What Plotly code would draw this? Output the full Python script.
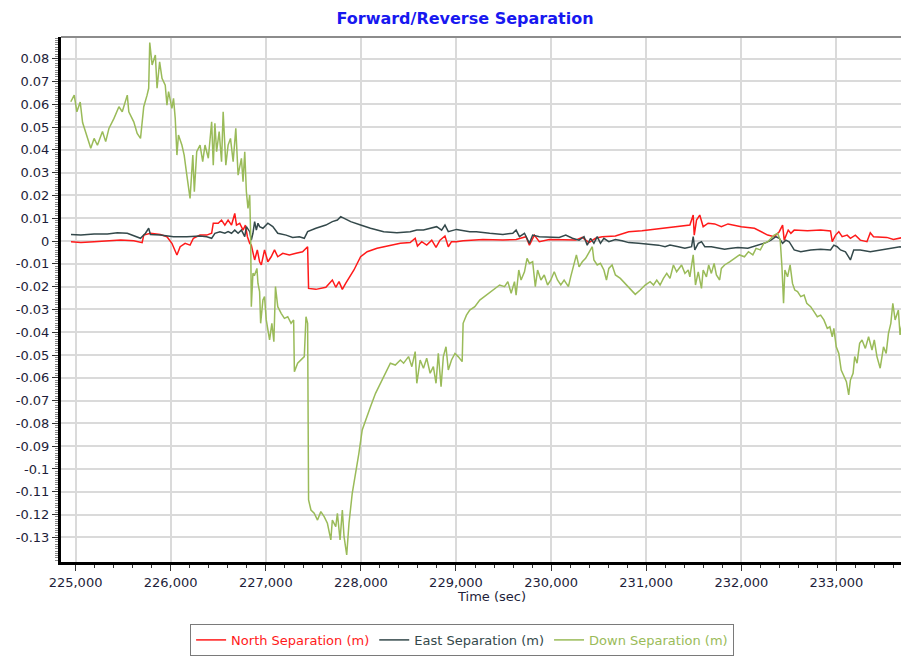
import plotly.graph_objects as go

# North separation (m)
north_time = [224952, 225056, 225195, 225335, 225474, 225612, 225700, 225717, 225787, 225891,
              225961, 226013, 226048, 226066, 226100, 226152, 226204, 226239, 226309, 226379,
              226431, 226448, 226500, 226535, 226570, 226604, 226640, 226674, 226692, 226726,
              226761, 226786, 226807, 226831, 226848, 226865, 226883, 226911, 226935, 226953,
              226987, 227022, 227057, 227092, 227126, 227179, 227248, 227318, 227387, 227440,
              227450, 227527, 227632, 227700, 227736, 227770, 227805, 227840, 227875, 227927,
              227997, 228066, 228170, 228310, 228415, 228519, 228571, 228595, 228640, 228692,
              228745, 228790, 228832, 228884, 228919, 228953, 229006, 229075, 229162, 229284,
              229493, 229632, 229736, 229772, 229824, 229876, 229981, 230119, 230258, 230328,
              230398, 230467, 230537, 230676, 230816, 230955, 231094, 231233, 231372, 231459,
              231494, 231505, 231529, 231563, 231599, 231651, 231720, 231790, 231860, 231999,
              232138, 232207, 232277, 232346, 232399, 232434, 232451, 232493, 232521, 232556,
              232695, 232834, 232938, 232956, 232991, 233025, 233060, 233113, 233147, 233199,
              233251, 233321, 233356, 233390, 233460, 233530, 233599, 233704, 233739]
north_sep = [-0.0003, -0.0007, -0.0003, 0.0001, 0.0004, 0.0001, -0.0007, 0.0026, 0.0034, 0.0029,
             0.0019, -0.0010, -0.0039, -0.0061, -0.0025, -0.0010, -0.0018, 0.0012, 0.0026, 0.0026,
             0.0034, 0.0078, 0.0078, 0.0092, 0.0070, 0.0092, 0.0070, 0.0121, 0.0070, 0.0078,
             0.0048, 0.0070, 0.0019, -0.0010, -0.0018, -0.0054, -0.0083, -0.0039, -0.0091, -0.0105,
             -0.0039, -0.0091, -0.0069, -0.0039, -0.0069, -0.0054, -0.0061, -0.0054, -0.0047, -0.0025,
             -0.0208, -0.0212, -0.0203, -0.0171, -0.0203, -0.0178, -0.0212, -0.0186, -0.0164, -0.0127,
             -0.0069, -0.0047, -0.0032, -0.0018, -0.0010, -0.0007, 0.0012, -0.0022, -0.0003, -0.0018,
             0.0004, -0.0028, 0.0004, 0.0022, -0.0025, -0.0003, -0.0003, 0.0001, 0.0004, 0.0007,
             0.0004, 0.0007, 0.0019, -0.0018, 0.0026, -0.0003, 0.0007, 0.0007, 0.0004, 0.0016,
             -0.0007, 0.0012, 0.0019, 0.0022, 0.0041, 0.0045, 0.0051, 0.0060, 0.0066, 0.0070,
             0.0114, 0.0026, 0.0092, 0.0114, 0.0063, 0.0078, 0.0075, 0.0063, 0.0075, 0.0063,
             0.0056, 0.0041, 0.0026, 0.0019, 0.0041, 0.0070, 0.0004, 0.0048, 0.0034, 0.0048,
             0.0045, 0.0048, 0.0044, -0.0003, 0.0026, 0.0041, 0.0019, 0.0026, 0.0012, 0.0026,
             0.0004, -0.0003, 0.0036, 0.0019, 0.0019, 0.0016, 0.0007, 0.0016, 0.0012]

# East separation (m)
east_time = [224952, 225056, 225195, 225335, 225439, 225544, 225683, 225735, 225769, 225787,
             225891, 226030, 226170, 226309, 226379, 226431, 226465, 226518, 226570, 226604,
             226640, 226674, 226709, 226744, 226779, 226796, 226831, 226848, 226865, 226883,
             226901, 226918, 226935, 226970, 227022, 227074, 227126, 227214, 227283, 227353,
             227405, 227440, 227527, 227632, 227700, 227753, 227788, 227823, 227893, 227997,
             228101, 228240, 228379, 228519, 228588, 228658, 228728, 228797, 228849, 228884,
             228919, 229006, 229145, 229214, 229354, 229493, 229597, 229632, 229667, 229720,
             229772, 229806, 229876, 229981, 230085, 230154, 230224, 230294, 230346, 230380,
             230415, 230450, 230485, 230519, 230555, 230607, 230676, 230746, 230816, 230920,
             231025, 231129, 231198, 231250, 231338, 231407, 231477, 231494, 231511, 231547,
             231581, 231616, 231685, 231755, 231824, 231894, 231964, 232069, 232173, 232260,
             232312, 232364, 232399, 232434, 232468, 232503, 232556, 232625, 232729, 232834,
             232938, 232973, 233008, 233043, 233095, 233147, 233182, 233251, 233356, 233460,
             233565, 233669, 233739]
east_sep = [0.0029, 0.0026, 0.0031, 0.0031, 0.0036, 0.0034, 0.0012, 0.0034, 0.0056, 0.0029,
            0.0026, 0.0019, 0.0019, 0.0022, 0.0019, 0.0012, 0.0034, 0.0041, 0.0034, 0.0041,
            0.0034, 0.0048, 0.0034, 0.0048, 0.0019, 0.0063, 0.0041, 0.0004, 0.0034, 0.0085,
            0.0048, 0.0078, 0.0063, 0.0056, 0.0078, 0.0063, 0.0034, 0.0026, 0.0016, 0.0019,
            0.0012, 0.0041, 0.0056, 0.0070, 0.0085, 0.0092, 0.0107, 0.0099, 0.0085, 0.0070,
            0.0056, 0.0041, 0.0036, 0.0041, 0.0048, 0.0048, 0.0056, 0.0063, 0.0048, 0.0070,
            0.0041, 0.0051, 0.0041, 0.0041, 0.0034, 0.0029, 0.0034, 0.0048, 0.0019, 0.0034,
            -0.0010, 0.0026, 0.0019, 0.0016, 0.0016, 0.0026, 0.0012, 0.0004, 0.0019, -0.0018,
            0.0012, -0.0010, 0.0019, -0.0010, 0.0012, -0.0003, 0.0007, 0.0001, -0.0007, -0.0010,
            -0.0013, -0.0018, -0.0025, -0.0018, -0.0025, -0.0032, -0.0025, 0.0019, -0.0039, -0.0010,
            -0.0003, -0.0025, -0.0025, -0.0032, -0.0036, -0.0032, -0.0028, -0.0032, -0.0018, -0.0007,
            0.0004, 0.0019, 0.0012, -0.0010, 0.0004, -0.0003, -0.0039, -0.0047, -0.0039, -0.0036,
            -0.0039, -0.0018, -0.0025, -0.0039, -0.0047, -0.0083, -0.0039, -0.0039, -0.0047, -0.0039,
            -0.0032, -0.0025, -0.0032]

# Down separation (m)
down_time = [224950, 224986, 225014, 225049, 225074, 225108, 225160, 225195, 225230, 225283,
             225317, 225351, 225404, 225456, 225491, 225544, 225560, 225612, 225648, 225683,
             225700, 225717, 225752, 225769, 225780, 225805, 225839, 225857, 225884, 225909,
             225943, 225961, 225978, 226013, 226030, 226048, 226066, 226082, 226118, 226142,
             226170, 226204, 226233, 226249, 226274, 226309, 226337, 226361, 226396, 226431,
             226448, 226465, 226483, 226510, 226535, 226552, 226580, 226604, 226629, 226657,
             226685, 226709, 226744, 226761, 226779, 226796, 226813, 226831, 226841, 226848,
             226865, 226883, 226907, 226918, 226935, 226946, 226970, 226987, 227005, 227040,
             227064, 227085, 227102, 227126, 227162, 227196, 227231, 227266, 227293, 227301,
             227335, 227371, 227405, 227423, 227440, 227450, 227475, 227509, 227544, 227579,
             227614, 227648, 227684, 227700, 227736, 227753, 227781, 227805, 227823, 227851,
             227875, 227909, 227945, 227979, 228014, 228049, 228101, 228154, 228206, 228258,
             228310, 228362, 228415, 228449, 228501, 228536, 228571, 228588, 228623, 228658,
             228692, 228728, 228762, 228790, 228814, 228843, 228867, 228895, 228919, 228953,
             228989, 229023, 229065, 229075, 229110, 229145, 229198, 229250, 229319, 229389,
             229459, 229511, 229545, 229580, 229615, 229632, 229660, 229684, 229720, 229747,
             229772, 229806, 229834, 229858, 229893, 229928, 229963, 229997, 230033, 230067,
             230102, 230137, 230182, 230206, 230242, 230266, 230294, 230328, 230363, 230415,
             230433, 230450, 230485, 230519, 230555, 230582, 230607, 230641, 230676, 230728,
             230780, 230833, 230885, 230937, 230989, 231041, 231077, 231111, 231146, 231181,
             231216, 231250, 231286, 231320, 231355, 231372, 231407, 231442, 231459, 231494,
             231518, 231547, 231581, 231599, 231633, 231657, 231685, 231714, 231738, 231772,
             231790, 231824, 231877, 231929, 231981, 232033, 232075, 232121, 232155, 232200,
             232236, 232277, 232312, 232346, 232382, 232409, 232427, 232444, 232458, 232486,
             232513, 232538, 232562, 232591, 232625, 232660, 232688, 232729, 232764, 232799,
             232834, 232868, 232904, 232931, 232956, 232973, 232998, 233025, 233050, 233077,
             233105, 233129, 233147, 233175, 233192, 233217, 233244, 233269, 233304, 233338,
             233374, 233398, 233426, 233460, 233495, 233523, 233547, 233572, 233593, 233617,
             233651, 233669, 233697, 233721, 233739]
down_sep = [0.0611, 0.0640, 0.0567, 0.0610, 0.0520, 0.0474, 0.0407, 0.0450, 0.0420, 0.0480,
            0.0436, 0.0494, 0.0538, 0.0589, 0.0567, 0.0640, 0.0567, 0.0523, 0.0472, 0.0450,
            0.0509, 0.0589, 0.0640, 0.0670, 0.0871, 0.0772, 0.0816, 0.0670, 0.0786, 0.0714,
            0.0684, 0.0596, 0.0655, 0.0582, 0.0626, 0.0538, 0.0377, 0.0465, 0.0421, 0.0377,
            0.0289, 0.0187, 0.0377, 0.0216, 0.0392, 0.0421, 0.0348, 0.0421, 0.0363, 0.0523,
            0.0333, 0.0516, 0.0392, 0.0480, 0.0348, 0.0567, 0.0333, 0.0421, 0.0450, 0.0348,
            0.0494, 0.0289, 0.0363, 0.0260, 0.0392, 0.0216, 0.0143, 0.0202, 0.0026, -0.0288,
            -0.0142, -0.0149, -0.0120, -0.0186, -0.0222, -0.0361, -0.0259, -0.0244, -0.0346, -0.0434,
            -0.0361, -0.0442, -0.0200, -0.0288, -0.0317, -0.0339, -0.0332, -0.0361, -0.0346, -0.0573,
            -0.0536, -0.0522, -0.0507, -0.0332, -0.0361, -0.1136, -0.1180, -0.1194, -0.1224, -0.1187,
            -0.1209, -0.1238, -0.1311, -0.1224, -0.1253, -0.1194, -0.1311, -0.1180, -0.1297, -0.1377,
            -0.1238, -0.1107, -0.1019, -0.0931, -0.0829, -0.0785, -0.0727, -0.0668, -0.0624, -0.0573,
            -0.0536, -0.0544, -0.0522, -0.0536, -0.0507, -0.0551, -0.0485, -0.0624, -0.0522, -0.0558,
            -0.0514, -0.0580, -0.0551, -0.0624, -0.0493, -0.0639, -0.0507, -0.0464, -0.0566, -0.0522,
            -0.0493, -0.0507, -0.0529, -0.0361, -0.0325, -0.0303, -0.0288, -0.0259, -0.0237, -0.0215,
            -0.0193, -0.0200, -0.0178, -0.0229, -0.0178, -0.0237, -0.0127, -0.0171, -0.0135, -0.0076,
            -0.0098, -0.0091, -0.0200, -0.0127, -0.0171, -0.0149, -0.0193, -0.0171, -0.0135, -0.0171,
            -0.0193, -0.0171, -0.0200, -0.0157, -0.0098, -0.0061, -0.0113, -0.0091, -0.0076, -0.0039,
            -0.0025, -0.0083, -0.0105, -0.0098, -0.0127, -0.0171, -0.0120, -0.0105, -0.0149, -0.0164,
            -0.0186, -0.0208, -0.0234, -0.0215, -0.0193, -0.0178, -0.0193, -0.0171, -0.0193, -0.0164,
            -0.0142, -0.0164, -0.0105, -0.0135, -0.0113, -0.0105, -0.0142, -0.0127, -0.0157, -0.0061,
            -0.0193, -0.0135, -0.0208, -0.0127, -0.0157, -0.0105, -0.0142, -0.0098, -0.0149, -0.0171,
            -0.0120, -0.0105, -0.0091, -0.0076, -0.0061, -0.0069, -0.0047, -0.0061, -0.0032, -0.0039,
            -0.0010, -0.0003, 0.0012, 0.0026, 0.0034, 0.0004, -0.0113, -0.0273, -0.0127, -0.0157,
            -0.0105, -0.0186, -0.0215, -0.0222, -0.0244, -0.0237, -0.0273, -0.0288, -0.0310, -0.0332,
            -0.0325, -0.0346, -0.0383, -0.0376, -0.0420, -0.0383, -0.0464, -0.0493, -0.0566, -0.0595,
            -0.0617, -0.0675, -0.0610, -0.0580, -0.0507, -0.0536, -0.0449, -0.0434, -0.0471, -0.0420,
            -0.0478, -0.0434, -0.0507, -0.0558, -0.0464, -0.0493, -0.0405, -0.0361, -0.0273, -0.0346,
            -0.0303, -0.0412, -0.0346, -0.0208, -0.0398]

x_ticks = [225000, 226000, 227000, 228000, 229000, 230000, 231000, 232000, 233000]
y_ticks = [0.08, 0.07, 0.06, 0.05, 0.04, 0.03, 0.02, 0.01, 0, -0.01, -0.02, -0.03, -0.04,
           -0.05, -0.06, -0.07, -0.08, -0.09, -0.1, -0.11, -0.12, -0.13]
y_labels = ["0.08", "0.07", "0.06", "0.05", "0.04", "0.03", "0.02", "0.01", "0", "-0.01",
            "-0.02", "-0.03", "-0.04", "-0.05", "-0.06", "-0.07", "-0.08", "-0.09", "-0.1",
            "-0.11", "-0.12", "-0.13"]

series = [
    ("North Separation (m)", north_time, north_sep, "#ff1a1a"),
    ("East Separation (m)", east_time, east_sep, "#34494b"),
    ("Down Separation (m)", down_time, down_sep, "#9abb59"),
]

FONT = "DejaVu Sans"
TICK_COLOR = "#1e1e3a"

fig = go.Figure()
for name, t, v, color in series:
    fig.add_trace(go.Scatter(
        x=t, y=v, mode="lines",
        name=f"<span style='color:{color}'>{name}</span>",
        line=dict(color=color, width=1.5),
    ))

# the page body adds an 8px offset, so margins are pulled in by 8px
fig.update_layout(
    width=909, height=656,
    margin=dict(l=47, r=8, t=29, b=102),
    paper_bgcolor="white", plot_bgcolor="white",
    font=dict(family=FONT, size=13, color=TICK_COLOR),
    title=dict(text="<b>Forward/Reverse Separation</b>", x=457 / 909, xanchor="center",
               y=1 - 10 / 656, yanchor="middle", yref="container",
               font=dict(family=FONT, size=16, color="#1818f0")),
    showlegend=True,
    legend=dict(orientation="h", x=0.473, xanchor="center", y=-0.118, yanchor="top",
                bordercolor="#7a7a7a", borderwidth=1, bgcolor="white",
                font=dict(family=FONT, size=13), itemwidth=30),
)

fig.update_xaxes(
    range=[224847, 233763],
    tickvals=x_ticks, tickformat=",d",
    showgrid=True, gridcolor="#dadada", gridwidth=2,
    showline=True, linecolor="black", linewidth=3,
    ticks="outside", ticklen=6, tickcolor="#333", tickwidth=1,
    minor=dict(dtick=200, ticks="outside", ticklen=3, tickcolor="#333", showgrid=False),
    zeroline=False,
    tickfont=dict(family=FONT, size=13, color=TICK_COLOR),
)
fig.update_yaxes(
    range=[-0.1408, 0.0895],
    tickvals=y_ticks, ticktext=y_labels,
    showgrid=True, gridcolor="#dadada", gridwidth=2,
    showline=True, linecolor="black", linewidth=3,
    ticks="outside", ticklen=6, tickcolor="#333", tickwidth=1,
    minor=dict(dtick=0.001, tick0=0, ticks="outside", ticklen=3, tickcolor="#888", showgrid=False),
    zeroline=False,
    tickfont=dict(family=FONT, size=13, color=TICK_COLOR),
)

# gray border along the top of the plot area
fig.add_shape(type="line", xref="paper", yref="paper", x0=0, x1=1, y0=1, y1=1,
              line=dict(color="#8c8c8c", width=2))

fig.add_annotation(text="Time (sec)", xref="paper", yref="paper", x=0.508, y=-0.065,
                   xanchor="center", yanchor="middle", showarrow=False,
                   font=dict(family=FONT, size=13, color=TICK_COLOR))

fig.write_html("out.html")
